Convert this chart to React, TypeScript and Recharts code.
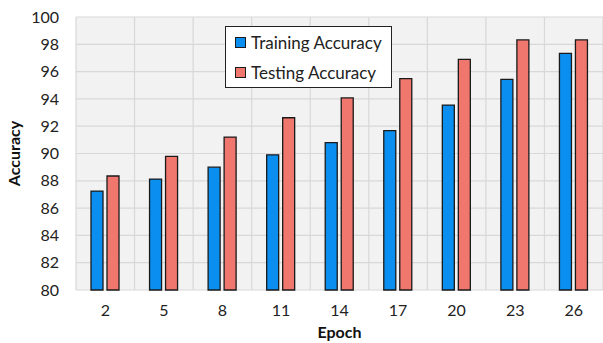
// @ts-nocheck
import { BarChart, Bar, XAxis, YAxis, CartesianGrid } from "recharts";

const epochs = ["2", "5", "8", "11", "14", "17", "20", "23", "26"];
const trainingAccuracy = [87.25, 88.13, 89.0, 89.9, 90.8, 91.67, 93.55, 95.43, 97.34];
const testingAccuracy = [88.35, 89.79, 91.2, 92.62, 94.07, 95.48, 96.9, 98.32, 98.32];
const yTicks = [80, 82, 84, 86, 88, 90, 92, 94, 96, 98, 100];

const COLORS = {
  training: "#0a8ff0",
  testing: "#f0776e",
  outline: "#1a1a1a",
};

const FONT = "Lato, 'Open Sans', sans-serif";

const data = epochs.map((epoch, i) => ({
  epoch,
  training: trainingAccuracy[i],
  testing: testingAccuracy[i],
}));

const series = [
  { key: "training", label: "Training Accuracy", color: COLORS.training },
  { key: "testing", label: "Testing Accuracy", color: COLORS.testing },
];

// vertical grid lines sit between the epoch groups, not on them
const boundaryLines = ({ offset }) => {
  const step = offset.width / epochs.length;
  return Array.from({ length: epochs.length + 1 }, (_, i) => offset.left + i * step);
};

export default function App() {
  return (
    <div style={{ position: "absolute", left: 0, top: 0, width: 603, height: 343, background: "#fff", fontFamily: FONT }}>
      <BarChart
        width={603}
        height={343}
        data={data}
        margin={{ top: 17, right: 0, left: 0, bottom: 0 }}
        barSize={12}
        barGap={4}
      >
        <CartesianGrid
          stroke="#d8d8d8"
          fill="#f2f2f2"
          strokeWidth={1.2}
          verticalCoordinatesGenerator={boundaryLines}
        />
        <XAxis
          dataKey="epoch"
          height={53}
          axisLine={false}
          tickLine={false}
          tickSize={0}
          tickMargin={15}
          tick={{ fontSize: 16, fill: "#222", fontFamily: FONT }}
          label={{
            value: "Epoch",
            position: "insideBottom",
            offset: 5,
            style: { fontSize: 16, fontWeight: 700, fill: "#111", fontFamily: FONT },
          }}
        />
        <YAxis
          width={76}
          domain={[80, 100]}
          ticks={yTicks}
          interval={0}
          axisLine={false}
          tickLine={false}
          tickSize={0}
          tickMargin={17}
          tick={{ fontSize: 16, fill: "#222", fontFamily: FONT }}
          label={{
            value: "Accuracy",
            angle: -90,
            position: "center",
            dx: -24,
            style: { fontSize: 16, fontWeight: 700, fill: "#111", fontFamily: FONT },
          }}
        />
        {series.map((s) => (
          <Bar
            key={s.key}
            dataKey={s.key}
            name={s.label}
            fill={s.color}
            stroke={COLORS.outline}
            strokeWidth={1.3}
            isAnimationActive={false}
          />
        ))}
      </BarChart>

      <div
        style={{
          position: "absolute",
          left: 225,
          top: 26,
          width: 167,
          height: 62,
          background: "#fff",
          border: "1.3px solid #222",
          boxSizing: "border-box",
          padding: "2px 0 0 9px",
        }}
      >
        {series.map((s) => (
          <div
            key={s.key}
            style={{ display: "flex", alignItems: "center", height: 26, marginBottom: 4, fontSize: 17, color: "#222" }}
          >
            <span
              style={{
                width: 9,
                height: 9,
                background: s.color,
                border: `1.2px solid ${COLORS.outline}`,
                marginRight: 5,
                display: "inline-block",
              }}
            />
            {s.label}
          </div>
        ))}
      </div>
    </div>
  );
}
